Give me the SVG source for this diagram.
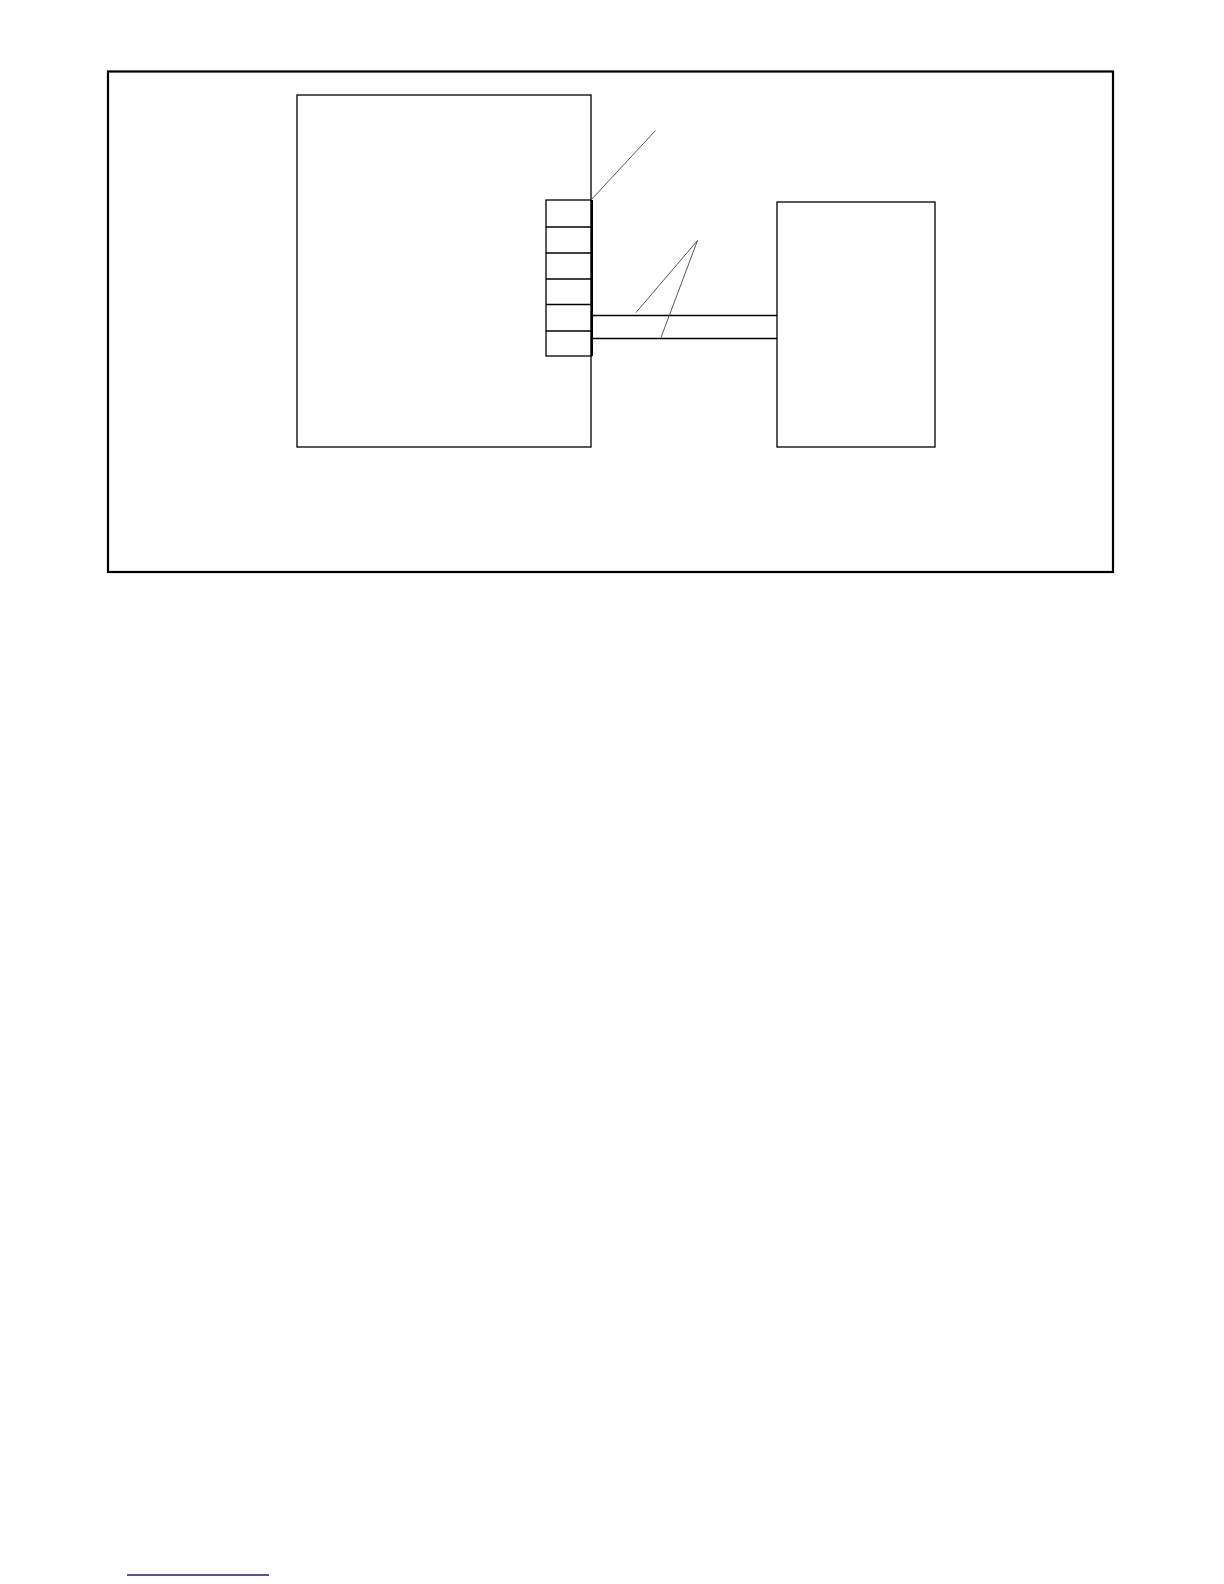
<svg xmlns="http://www.w3.org/2000/svg" width="1224" height="1584" viewBox="0 0 1224 1584">
<style>
.box{fill:none;stroke:#000;stroke-width:1.3}
.frame{fill:none;stroke:#000;stroke-width:2.2}
.wire{stroke:#000;stroke-width:1.5;fill:none}
.leader{stroke:#555;stroke-width:1;fill:none}
</style>
<rect width="1224" height="1584" fill="#fff"/>
<rect id="frame" class="frame" x="108" y="71.5" width="1005" height="500.5"/>
<g id="unit-left">
<rect class="box" x="297" y="95" width="294" height="352"/>
</g>
<g id="terminal-strip">
<rect class="box" x="546" y="200" width="45.5" height="156"/>
<line class="box" x1="546" y1="227" x2="591" y2="227"/>
<line class="box" x1="546" y1="253" x2="591" y2="253"/>
<line class="box" x1="546" y1="279" x2="591" y2="279"/>
<line class="box" x1="546" y1="304.5" x2="591" y2="304.5"/>
<line class="box" x1="546" y1="331" x2="591" y2="331"/>
<line stroke="#000" stroke-width="2" x1="592" y1="200" x2="592" y2="356"/>
</g>
<g id="unit-right">
<rect class="box" x="777" y="202" width="158" height="245"/>
</g>
<g id="connectors">
<line class="wire" x1="592" y1="315.5" x2="777" y2="315.5"/>
<line class="wire" x1="592" y1="338.5" x2="777" y2="338.5"/>
<line class="leader" x1="591" y1="200" x2="655.5" y2="130.5"/>
<polyline class="leader" points="636,312.5 697.5,240.5 661,337.5"/>
</g>
<line x1="127" y1="1575" x2="269" y2="1575" stroke="#1a1a80" stroke-width="1.5"/>
</svg>
